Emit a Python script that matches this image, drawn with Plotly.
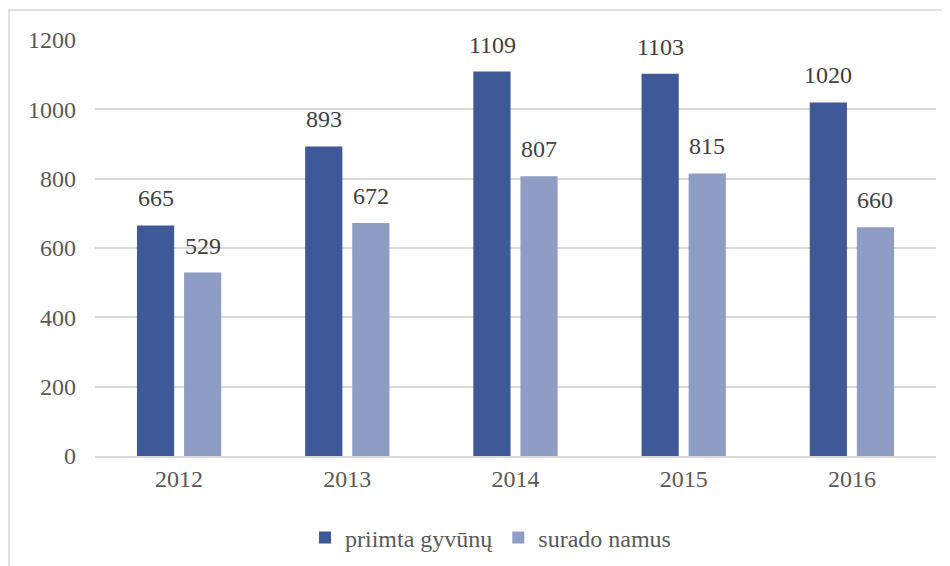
import plotly.graph_objects as go

YEARS = ["2012", "2013", "2014", "2015", "2016"]
PRIIMTA = [665, 893, 1109, 1103, 1020]
SURADO = [529, 672, 807, 815, 660]
SERIES_NAMES = ["priimta gyvūnų", "surado namus"]

DARK = "#3F5898"
LIGHT = "#8F9DC4"
GRID = "#D9D9D9"
TEXT = "#595959"
LABEL = "#404040"
FONT = "Liberation Serif"
FS = 24

fig = go.Figure()
for name, vals, col in [(SERIES_NAMES[0], PRIIMTA, DARK), (SERIES_NAMES[1], SURADO, LIGHT)]:
    fig.add_trace(go.Bar(
        x=YEARS, y=vals, name=name,
        marker=dict(color=col, line=dict(width=0)),
    ))

# value labels sitting a bit above each bar (category axis -> use category index)
for shift, vals in [(-23.5, PRIIMTA), (23.5, SURADO)]:
    for i, v in enumerate(vals):
        fig.add_annotation(x=i, y=v, text=str(v), showarrow=False,
                           xshift=shift, yshift=27, yanchor="middle",
                           font=dict(family=FONT, size=FS, color=LABEL))

# light frame around the chart area
fig.add_shape(type="rect", xref="paper", yref="paper",
              x0=-0.1023, x1=1.03, y0=-0.3, y1=1.0721,
              line=dict(color=GRID, width=1.5), fillcolor="rgba(0,0,0,0)",
              layer="below")

fig.update_layout(
    width=950, height=566,
    paper_bgcolor="white", plot_bgcolor="white",
    font=dict(family=FONT, size=FS, color=TEXT),
    margin=dict(l=87, r=22, t=32, b=118, autoexpand=False),
    barmode="group",
    bargap=0.44,
    bargroupgap=0.21,
    xaxis=dict(type="category", range=[-0.5, 4.5], showgrid=False, showline=True,
               linecolor=GRID, linewidth=2, ticks="", automargin=False,
               tickfont=dict(family=FONT, size=FS, color=TEXT), ticklabelstandoff=0),
    yaxis=dict(range=[0, 1200], dtick=200, gridcolor=GRID, gridwidth=1.5,
               zeroline=False, showline=False, ticks="", automargin=False,
               tickfont=dict(family=FONT, size=FS, color=TEXT), ticklabelstandoff=18),
    showlegend=True,
    legend=dict(orientation="h", x=0.2497, xanchor="left", y=-0.197, yanchor="middle",
                font=dict(family=FONT, size=FS, color=TEXT), bgcolor="rgba(0,0,0,0)",
                itemwidth=30, traceorder="normal"),
)

fig.write_html("out.html")
